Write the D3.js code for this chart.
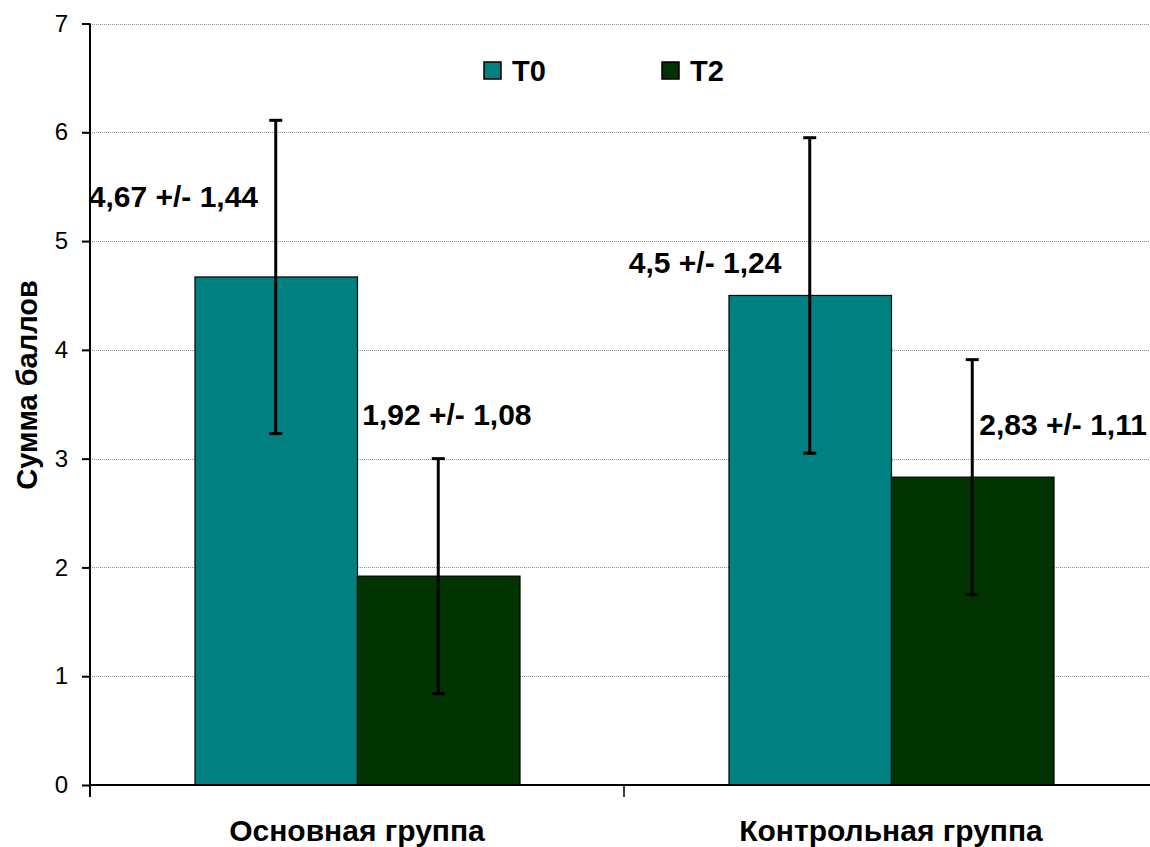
<!DOCTYPE html>
<html>
<head>
<meta charset="utf-8">
<script src="https://cdn.jsdelivr.net/npm/d3@7"></script>
<style>
  html, body { margin: 0; padding: 0; background: #fff; }
  svg { display: block; font-family: "Liberation Sans", Arial, sans-serif; }
</style>
</head>
<body>
<svg id="chart" width="1150" height="847"></svg>
<script>
const categories = ["Основная группа", "Контрольная группа"];
const series = ["T0", "T2"];
const valuesT0 = [4.67, 4.5];
const valuesT2 = [1.92, 2.83];
const errorsT0 = [1.44, 1.45];
const errorsT2 = [1.08, 1.08];
const labelsT0 = ["4,67 +/- 1,44", "4,5 +/- 1,24"];
const labelsT2 = ["1,92 +/- 1,08", "2,83 +/- 1,11"];
const yTicks = [0, 1, 2, 3, 4, 5, 6, 7];
const colors = ["#008080", "#003300"];

const svg = d3.select("#chart");
const margin = { left: 90, top: 23.5, bottom: 62 };
const plotW = 1068;
const y = d3.scaleLinear().domain([0, 7]).range([847 - margin.bottom, margin.top]);
const x0 = d3.scaleBand().domain(categories).range([margin.left, margin.left + plotW]).paddingInner(0).paddingOuter(0);
const x1 = d3.scaleBand().domain(series).range([0, x0.bandwidth()]).paddingInner(0).paddingOuter(0.643);

// gridlines
svg.append("g").selectAll("line").data(yTicks.filter(d => d > 0)).join("line")
  .attr("x1", margin.left).attr("x2", margin.left + plotW)
  .attr("y1", d => Math.round(y(d)) + 0.5).attr("y2", d => Math.round(y(d)) + 0.5)
  .attr("stroke", "#8c8c8c").attr("stroke-width", 1).attr("stroke-dasharray", "1,1");

const data = [];
categories.forEach((c, i) => {
  data.push({ cat: c, s: "T0", v: valuesT0[i], e: errorsT0[i], label: labelsT0[i], color: colors[0] });
  data.push({ cat: c, s: "T2", v: valuesT2[i], e: errorsT2[i], label: labelsT2[i], color: colors[1] });
});

// bars
svg.append("g").selectAll("rect").data(data).join("rect")
  .attr("x", d => x0(d.cat) + x1(d.s) + 0.5)
  .attr("y", d => y(d.v))
  .attr("width", x1.bandwidth())
  .attr("height", d => y(0) - y(d.v))
  .attr("fill", d => d.color)
  .attr("stroke", "#000").attr("stroke-width", 1.2);

// error bars
const eb = svg.append("g").attr("stroke", "#000").attr("stroke-width", 3);
data.forEach(d => {
  const cx = x0(d.cat) + x1(d.s) + x1.bandwidth() / 2;
  eb.append("line").attr("x1", cx).attr("x2", cx).attr("y1", y(d.v + d.e)).attr("y2", y(d.v - d.e));
  eb.append("line").attr("x1", cx - 6.5).attr("x2", cx + 6.5).attr("y1", y(d.v + d.e)).attr("y2", y(d.v + d.e));
  eb.append("line").attr("x1", cx - 6.5).attr("x2", cx + 6.5).attr("y1", y(d.v - d.e)).attr("y2", y(d.v - d.e));
});

// y axis
const yAxis = d3.axisLeft(y).tickValues(yTicks).tickSize(8).tickPadding(14).tickFormat(d3.format("d"));
const gy = svg.append("g").attr("transform", `translate(${margin.left},0)`).call(yAxis);
gy.select(".domain").attr("stroke", "#000").attr("stroke-width", 2).attr("d", `M0,${margin.top}V${y(0) + 12}`);
gy.selectAll(".tick line").attr("stroke", "#000").attr("stroke-width", 2);
gy.selectAll(".tick text").attr("font-size", 24).attr("fill", "#000").attr("font-family", "Liberation Sans, Arial, sans-serif");

// x axis
const gx = svg.append("g").attr("transform", `translate(0,${y(0)})`);
gx.append("line").attr("x1", margin.left).attr("x2", margin.left + plotW).attr("stroke", "#000").attr("stroke-width", 2);
gx.selectAll("line.tk").data(categories.slice(1)).join("line").attr("class", "tk")
  .attr("x1", d => x0(d)).attr("x2", d => x0(d)).attr("y1", 0).attr("y2", 12)
  .attr("stroke", "#000").attr("stroke-width", 1.5);
gx.selectAll("text").data(categories).join("text")
  .attr("x", d => x0(d) + x0.bandwidth() / 2).attr("y", 56)
  .attr("text-anchor", "middle").attr("font-size", 30).attr("font-weight", "bold").text(d => d);

// value labels (offsets relative to bar centre / top)
const labelPos = [
  { dx: -187, dy: -70 }, { dx: -76, dy: -151 },
  { dx: -181, dy: -22 }, { dx: 7, dy: -42 }
];
svg.append("g").selectAll("text").data(data).join("text")
  .attr("x", (d, i) => x0(d.cat) + x1(d.s) + x1.bandwidth() / 2 + labelPos[i].dx)
  .attr("y", (d, i) => y(d.v) + labelPos[i].dy)
  .attr("font-size", 30).attr("font-weight", "bold").attr("fill", "#000")
  .text(d => d.label);

// y title
svg.append("text").attr("transform", `translate(37,385) rotate(-90)`)
  .attr("text-anchor", "middle").attr("font-size", 29).attr("font-weight", "bold").text("Сумма баллов");

// legend
const leg = svg.append("g").selectAll("g").data(series).join("g")
  .attr("transform", (d, i) => `translate(484,62) translate(${i * 178},0)`);
leg.append("rect").attr("width", 17).attr("height", 17)
  .attr("fill", (d, i) => colors[i]).attr("stroke", "#000").attr("stroke-width", 1.5);
leg.append("text").attr("x", 28).attr("y", 19).attr("font-size", 29).attr("font-weight", "bold").text(d => d);
</script>
</body>
</html>
